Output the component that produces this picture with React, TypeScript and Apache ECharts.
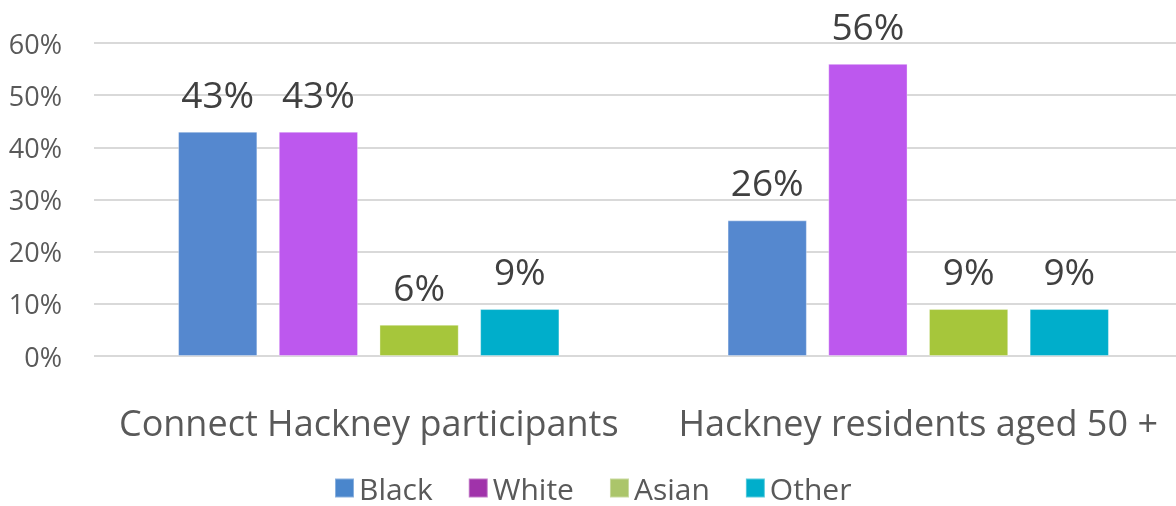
import React, { useEffect, useRef } from "react";
import * as echarts from "echarts";

const categories = ["Connect Hackney participants", "Hackney residents aged 50 +"];
const seriesNames = ["Black", "White", "Asian", "Other"];
const black = [43, 26];
const white = [43, 56];
const asian = [6, 9];
const other = [9, 9];
const yTicks = [0, 10, 20, 30, 40, 50, 60];

const barColors = ["#5588cf", "#bd58ee", "#a6c63b", "#00aecb"];
const legendColors = ["#4a86cc", "#a033aa", "#abc56a", "#00aecb"];

export default function App() {
  const ref = useRef<HTMLDivElement>(null);
  useEffect(() => {
    document.body.style.overflow = "hidden";
    const chart = echarts.init(ref.current!, null, { renderer: "svg" });
    const font = "'Open Sans', sans-serif";
    const values = [black, white, asian, other];
    chart.setOption({
      animation: false,
      textStyle: { fontFamily: font },
      grid: { left: 94, right: 7, top: 43, bottom: 150, containLabel: false },
      legend: {
        top: 468,
        left: 329,
        itemWidth: 19,
        itemHeight: 19,
        itemGap: 35,
        icon: "rect",
        textStyle: {
          fontSize: 30,
          color: "#595959",
          fontFamily: font,
        },
        data: seriesNames.map((n, i) => ({ name: n, itemStyle: { color: legendColors[i] } })),
      },
      xAxis: {
        type: "category",
        data: categories,
        axisLine: { show: false },
        axisTick: { show: false },
        axisLabel: { interval: 0, fontSize: 36, color: "#595959", margin: 48, fontFamily: font },
      },
      yAxis: {
        type: "value",
        min: 0,
        max: 60,
        interval: 10,
        axisLine: { show: false },
        axisTick: { show: false },
        splitLine: { lineStyle: { color: "#d9d9d9", width: 2 } },
        axisLabel: {
          formatter: (v: number) => (yTicks.includes(v) ? v + "%" : ""),
          fontSize: 27,
          color: "#595959",
          margin: 32,
          padding: [7, 0, 0, 0],
          fontFamily: font,
        },
      },
      series: seriesNames.map((n, i) => ({
        name: n,
        type: "bar",
        data: values[i],
        barGap: "27%",
        barCategoryGap: "30.6%",
        itemStyle: { color: barColors[i], borderColor: "rgba(255,255,255,0.35)", borderWidth: 1 },
        label: {
          show: true,
          position: "top",
          distance: 20,
          formatter: "{c}%",
          fontSize: 37,
          color: "#404040",
          fontFamily: font,
        },
      })),
    });
    return () => chart.dispose();
  }, []);
  return (
    <div
      ref={ref}
      style={{ position: "fixed", left: 0, top: 0, width: 1200, height: 506 }}
    />
  );
}
